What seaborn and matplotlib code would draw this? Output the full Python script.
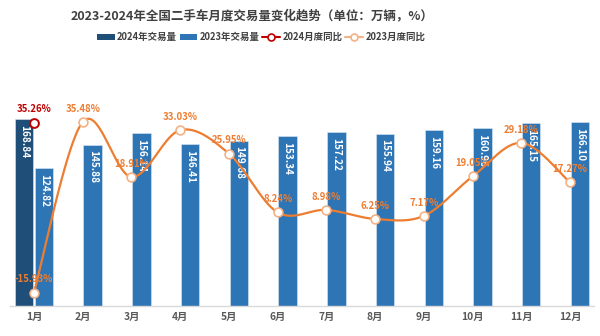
import numpy as np
import pandas as pd
import matplotlib
matplotlib.use("Agg")
import matplotlib.pyplot as plt
from matplotlib.lines import Line2D
from matplotlib.patches import Patch
import seaborn as sns

months = ["1月", "2月", "3月", "4月", "5月", "6月", "7月", "8月", "9月", "10月", "11月", "12月"]
vol_2023 = [124.82, 145.88, 156.14, 146.41, 149.68, 153.34, 157.22, 155.94, 159.16, 160.96, 165.15, 166.10]
vol_2024 = [168.84]
yoy_2023 = [-15.93, 35.48, 18.91, 33.03, 25.95, 8.24, 8.98, 6.25, 7.17, 19.05, 29.18, 17.27]
yoy_2024 = [35.26]
series_names = ["2024年交易量", "2023年交易量", "2024月度同比", "2023月度同比"]
title = "2023-2024年全国二手车月度交易量变化趋势（单位：万辆，%）"

c24 = "#1F4E79"
c23 = "#2E75B6"
cl24 = "#C00000"
cl23 = "#ED7D31"
txt = "#404040"

sns.set_theme(style="white")
plt.rcParams["font.family"] = ["Noto Sans CJK SC", "DejaVu Sans"]

rows = []
for m, v in zip(months, vol_2024):
    rows.append({"month": m, "series": series_names[0], "value": v})
for m, v in zip(months, vol_2023):
    rows.append({"month": m, "series": series_names[1], "value": v})
df = pd.DataFrame(rows)

fig = plt.figure(figsize=(6, 3.36), dpi=100)
ax = fig.add_axes([9.6 / 600, 30 / 336, 584.8 / 600, 199 / 336])

sns.barplot(data=df, x="month", y="value", hue="series", order=months,
            hue_order=series_names[:2], palette=[c24, c23], width=0.82, gap=0.08,
            ax=ax, legend=False, saturation=1, edgecolor="#DCE6F0", linewidth=0.4)
ax.set_ylim(0, 180)
ax.set_xlim(-0.5, 11.5)
ax.set_xlabel("")
ax.set_ylabel("")
ax.set_yticks([])
for s in ["top", "right", "left"]:
    ax.spines[s].set_visible(False)
ax.spines["bottom"].set_color("#D9D9D9")
ax.spines["bottom"].set_linewidth(1.0)
ax.tick_params(axis="x", length=0, pad=4)
for lab in ax.get_xticklabels():
    lab.set_fontsize(7.4)
    lab.set_fontweight("bold")
    lab.set_color("#595959")

# bar labels inside top, rotated
for cont in ax.containers:
    labels = [f"{b.get_height():.2f}" for b in cont]
    ax.bar_label(cont, labels=labels, label_type="edge", padding=-4, rotation=-90,
                 color="white", fontsize=7.2, fontweight="bold")
for t in ax.texts:
    t.set_verticalalignment("top")

ax2 = ax.twinx()
ax2.set_ylim(-20, 40)
ax2.set_yticks([])
for s in ["top", "right", "left", "bottom"]:
    ax2.spines[s].set_visible(False)

# smoothed curve (Catmull-Rom style Bezier through the data points)
xs = np.arange(len(yoy_2023), dtype=float)
pts = np.column_stack([xs, np.array(yoy_2023, dtype=float)])
n = len(pts)
curve = []
tt = np.linspace(0, 1, 40)[:, None]
for i in range(n - 1):
    pm = pts[i - 1] if i > 0 else pts[i]
    p0 = pts[i]
    p1 = pts[i + 1]
    pp = pts[i + 2] if i + 2 < n else pts[i + 1]
    c1 = p0 + (p1 - pm) / 6.0
    c2 = p1 - (pp - p0) / 6.0
    seg = (1 - tt) ** 3 * p0 + 3 * (1 - tt) ** 2 * tt * c1 + 3 * (1 - tt) * tt ** 2 * c2 + tt ** 3 * p1
    curve.append(seg)
curve = np.vstack(curve)
ax2.plot(curve[:, 0], curve[:, 1], color=cl23, lw=1.6, zorder=3, solid_capstyle="round")

pdf23 = pd.DataFrame({"x": xs, "y": yoy_2023})
sns.scatterplot(data=pdf23, x="x", y="y", ax=ax2, s=40, color="white",
                edgecolor="#F4B183", linewidth=1.2, zorder=4, legend=False)
pdf24 = pd.DataFrame({"x": np.arange(len(yoy_2024), dtype=float), "y": yoy_2024})
sns.scatterplot(data=pdf24, x="x", y="y", ax=ax2, s=40, color="white",
                edgecolor=cl24, linewidth=1.4, zorder=5, legend=False)
ax2.set_xlabel("")
ax2.set_ylabel("")

for x, y in zip(xs, yoy_2023):
    ax2.annotate(f"{y:.2f}%", (x, y), xytext=(0, 6), textcoords="offset points",
                 ha="center", va="bottom", color=cl23, fontsize=6.9, fontweight="bold", zorder=6)
for x, y in zip(range(len(yoy_2024)), yoy_2024):
    ax2.annotate(f"{y:.2f}%", (x, y), xytext=(0, 6), textcoords="offset points",
                 ha="center", va="bottom", color=cl24, fontsize=6.9, fontweight="bold", zorder=6)

fig.text(0.42, 1 - 16 / 336, title, ha="center", va="center", fontsize=9.0,
         fontweight="bold", color=txt)

handles = [
    Patch(facecolor=c24, edgecolor="none"),
    Patch(facecolor=c23, edgecolor="none"),
    Line2D([0], [0], color=cl24, lw=1.5, marker="o", markersize=5, markerfacecolor="white",
           markeredgecolor=cl24, markeredgewidth=1.2),
    Line2D([0], [0], color="#F4B183", lw=1.5, marker="o", markersize=5, markerfacecolor="white",
           markeredgecolor="#F4B183", markeredgewidth=1.2),
]
leg = fig.legend(handles, series_names, loc="center", bbox_to_anchor=(0.435, 1 - 37 / 336),
                 ncol=4, frameon=False, fontsize=6.8, handlelength=1.9, handleheight=0.6,
                 handletextpad=0.25, columnspacing=0.25)
for t in leg.get_texts():
    t.set_color(txt)
    t.set_fontweight("bold")

fig.savefig("out.png", dpi=100)
